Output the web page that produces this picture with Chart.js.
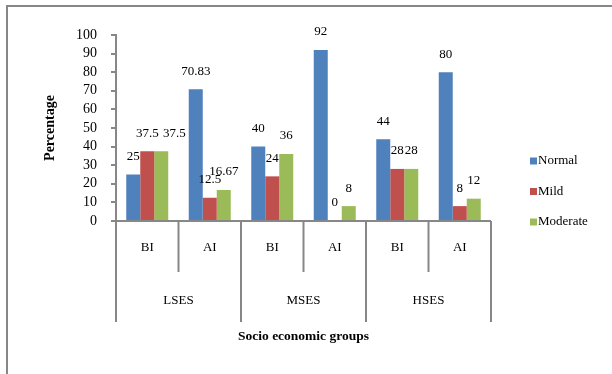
<!DOCTYPE html>
<html>
<head>
<meta charset="utf-8">
<script src="https://cdn.jsdelivr.net/npm/chart.js@4/dist/chart.umd.min.js"></script>
<style>
  html, body { margin: 0; padding: 0; background: #fff; }
</style>
</head>
<body>
<canvas id="myChart" width="612" height="374"></canvas>
<script>
// Data
var categories = ['BI', 'AI', 'BI', 'AI', 'BI', 'AI'];
var groups = ['LSES', 'MSES', 'HSES'];
var normal = [25, 70.83, 40, 92, 44, 80];
var mild = [37.5, 12.5, 24, 0, 28, 8];
var moderate = [37.5, 16.67, 36, 8, 28, 12];
var yTicks = [0, 10, 20, 30, 40, 50, 60, 70, 80, 90, 100];

var serif = "'Liberation Serif', 'Times New Roman', serif";
var lineGray = '#878787';

// frame around the whole chart (only left and top edges are visible)
var framePlugin = {
    id: 'frame',
    beforeDraw: function(chart) {
        var ctx = chart.ctx;
        ctx.save();
        ctx.strokeStyle = lineGray;
        ctx.lineWidth = 2;
        ctx.beginPath();
        ctx.moveTo(7, chart.height);
        ctx.lineTo(7, 6);
        ctx.lineTo(chart.width, 6);
        ctx.stroke();
        ctx.restore();
    }
};

// value labels above each bar
// (the second 37.5 label was nudged right in the original so it does not sit on the first)
var labelNudge = { '2-0': 13 };
var valueLabels = {
    id: 'valueLabels',
    afterDatasetsDraw: function(chart) {
        var ctx = chart.ctx;
        ctx.save();
        ctx.font = '13px ' + serif;
        ctx.fillStyle = '#000';
        ctx.textAlign = 'center';
        ctx.textBaseline = 'middle';
        chart.data.datasets.forEach(function(ds, i) {
            chart.getDatasetMeta(i).data.forEach(function(bar, j) {
                var dx = labelNudge[i + '-' + j] || 0;
                ctx.fillText(String(ds.data[j]), bar.x + dx, bar.y - 18);
            });
        });
        ctx.restore();
    }
};

// two level category axis, axis title and legend
var groupAxis = {
    id: 'groupAxis',
    afterDraw: function(chart) {
        var ctx = chart.ctx;
        var x = chart.scales.x;
        var area = chart.chartArea;
        var base = area.bottom;
        var half = (x.getPixelForValue(1) - x.getPixelForValue(0)) / 2;
        ctx.save();
        ctx.strokeStyle = lineGray;
        ctx.lineWidth = 2;
        // axis line
        ctx.beginPath();
        ctx.moveTo(area.left, base);
        ctx.lineTo(area.right, base);
        ctx.stroke();
        // separators
        for (var i = 0; i <= categories.length; i++) {
            var px = x.getPixelForValue(i) - half;
            var len = (i % 2 === 0) ? 101 : 51;
            ctx.beginPath();
            ctx.moveTo(px, base);
            ctx.lineTo(px, base + len);
            ctx.stroke();
        }
        ctx.fillStyle = '#000';
        ctx.textAlign = 'center';
        ctx.textBaseline = 'middle';
        ctx.font = '13px ' + serif;
        categories.forEach(function(c, i) {
            ctx.fillText(c, x.getPixelForValue(i), base + 27);
        });
        groups.forEach(function(g, i) {
            var cx = (x.getPixelForValue(i * 2) + x.getPixelForValue(i * 2 + 1)) / 2;
            ctx.fillText(g, cx, base + 80);
        });
        ctx.font = 'bold 13.5px ' + serif;
        ctx.fillText('Socio economic groups', (area.left + area.right) / 2, base + 116);

        // legend
        ctx.textAlign = 'left';
        ctx.font = '13px ' + serif;
        chart.data.datasets.forEach(function(ds, i) {
            var ly = 161 + i * 30.5;
            ctx.fillStyle = ds.backgroundColor;
            ctx.fillRect(530, ly - 3.5, 7, 7);
            ctx.fillStyle = '#000';
            ctx.fillText(ds.label, 538, ly);
        });
        ctx.restore();
    }
};

var ctx = document.getElementById('myChart').getContext('2d');
var myChart = new Chart(ctx, {
    type: 'bar',
    data: {
        labels: categories,
        datasets: [
            { label: 'Normal', data: normal, backgroundColor: '#4F81BD' },
            { label: 'Mild', data: mild, backgroundColor: '#C0504D' },
            { label: 'Moderate', data: moderate, backgroundColor: '#9BBB59' }
        ]
    },
    options: {
        responsive: false,
        animation: false,
        categoryPercentage: 0.672,
        barPercentage: 1,
        layout: { padding: { left: 42, top: 35, right: 121, bottom: 0 } },
        plugins: {
            legend: { display: false },
            tooltip: { enabled: false }
        },
        scales: {
            x: {
                ticks: { display: false },
                grid: { display: false },
                border: { display: false },
                afterFit: function(scale) { scale.height = 153; }
            },
            y: {
                min: 0,
                max: 100,
                afterBuildTicks: function(scale) {
                    scale.ticks = yTicks.map(function(v) { return { value: v }; });
                },
                ticks: {
                    autoSkip: false,
                    color: '#000',
                    padding: 14,
                    font: { family: serif, size: 14 }
                },
                grid: {
                    drawOnChartArea: false,
                    tickLength: 5,
                    color: lineGray,
                    lineWidth: 2
                },
                border: { color: lineGray, width: 2 },
                title: {
                    display: true,
                    text: 'Percentage',
                    color: '#000',
                    padding: 0,
                    font: { family: serif, size: 14, weight: 'bold' }
                },
                afterFit: function(scale) { scale.width = 74; }
            }
        }
    },
    plugins: [framePlugin, valueLabels, groupAxis]
});
</script>
</body>
</html>
